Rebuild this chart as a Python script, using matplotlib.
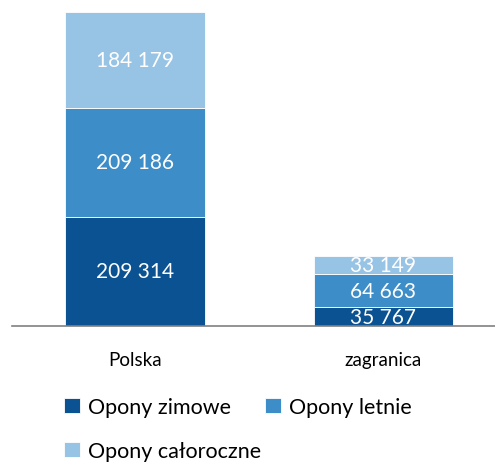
import matplotlib
matplotlib.use("Agg")
import matplotlib.pyplot as plt
import numpy as np

plt.rcParams['font.family'] = ['Lato', 'DejaVu Sans']

# dane
kategorie = ['Polska', 'zagranica']
zimowe = [209314, 35767]
letnie = [209186, 64663]
caloroczne = [184179, 33149]
serie = ['Opony zimowe', 'Opony letnie', 'Opony całoroczne']
kolory = ['#0A5291', '#3D8DC8', '#97C3E5']


def fmt(v):
    return f"{v:,}".replace(",", " ")


fig = plt.figure(figsize=(4.95, 4.64), dpi=100)
ax = fig.add_axes([12 / 495, 1 - 327 / 464, 1 - 12 / 495, (327 - 13) / 464])

x = np.arange(len(kategorie))
szer = 0.563
dol = np.zeros(len(kategorie))
uchwyty = []
for wart, kol, nazwa in zip([zimowe, letnie, caloroczne], kolory, serie):
    bars = ax.bar(x, wart, szer, bottom=dol, color=kol, label=nazwa, edgecolor='white', linewidth=0.6)
    uchwyty.append(bars)
    for b, v, d in zip(bars, wart, dol):
        ax.text(b.get_x() + b.get_width() / 2, d + v / 2, fmt(v), ha='center', va='center',
                color='white', fontsize=15)
    dol += np.array(wart)

ax.set_xlim(-0.495, 1.449)
ax.set_ylim(0, dol.max())
for s in ['top', 'right', 'left']:
    ax.spines[s].set_visible(False)
ax.spines['bottom'].set_color('#808080')
ax.spines['bottom'].set_linewidth(1.2)
ax.set_yticks([])
ax.set_xticks(x)
ax.set_xticklabels(kategorie, fontsize=13.5)
ax.tick_params(axis='x', length=0, pad=18)

# legenda w dwoch wierszach: zimowe, letnie / caloroczne
opcje = dict(frameon=False, fontsize=15.5, handlelength=0.75, handleheight=0.75,
             handletextpad=0.35, borderpad=0, borderaxespad=0)
fig.legend(uchwyty[:2], serie[:2], loc='center left', bbox_to_anchor=(64 / 495, 1 - 408 / 464),
           ncol=2, columnspacing=1.6, **opcje)
fig.legend(uchwyty[2:], serie[2:], loc='center left', bbox_to_anchor=(64 / 495, 1 - 452 / 464), **opcje)

plt.savefig('out.png', dpi=100)
